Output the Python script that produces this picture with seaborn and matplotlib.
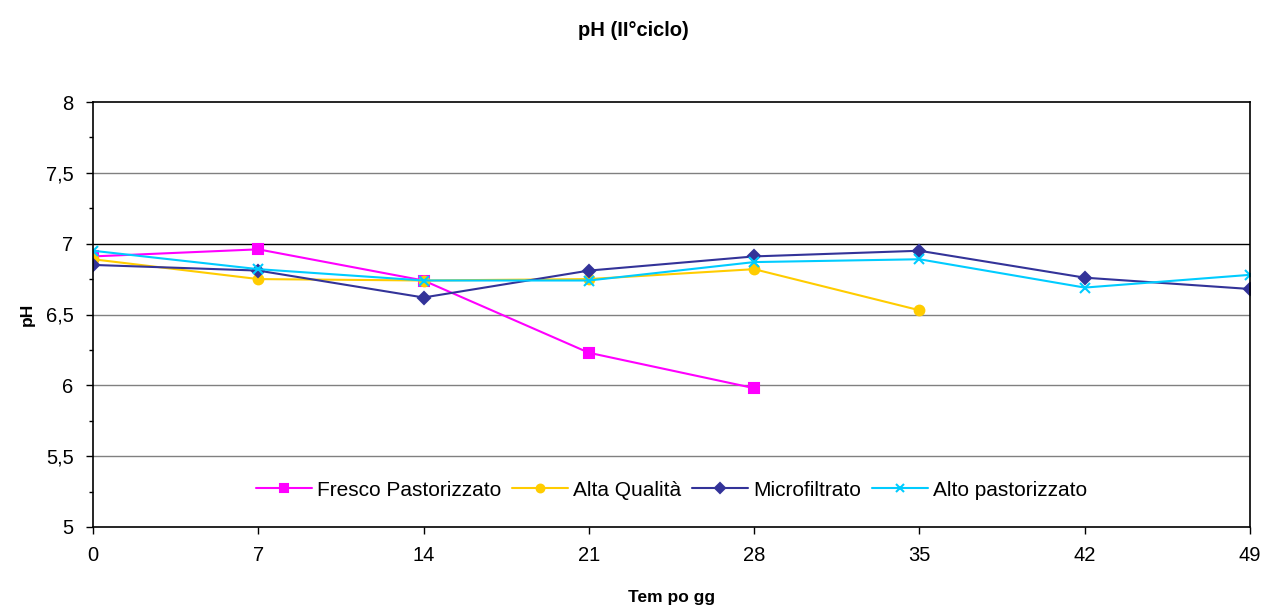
import matplotlib
matplotlib.use("Agg")
import matplotlib.pyplot as plt
from matplotlib.ticker import MultipleLocator, FuncFormatter
import seaborn as sns
import pandas as pd

days = [0, 7, 14, 21, 28, 35, 42, 49]
fresco = [6.91, 6.96, 6.74, 6.23, 5.98]
alta_qualita = [6.89, 6.75, 6.74, 6.75, 6.82, 6.53]
microfiltrato = [6.85, 6.81, 6.62, 6.81, 6.91, 6.95, 6.76, 6.68]
alto_past = [6.95, 6.82, 6.74, 6.74, 6.87, 6.89, 6.69, 6.78]

series = {
    "Fresco Pastorizzato": fresco,
    "Alta Qualità": alta_qualita,
    "Microfiltrato": microfiltrato,
    "Alto pastorizzato": alto_past,
}
colors = {
    "Fresco Pastorizzato": "#FF00FF",
    "Alta Qualità": "#FFCC00",
    "Microfiltrato": "#333399",
    "Alto pastorizzato": "#00CCFF",
}
markers = {
    "Fresco Pastorizzato": "s",
    "Alta Qualità": "o",
    "Microfiltrato": "D",
    "Alto pastorizzato": "x",
}

sns.set_theme(style="white")
plt.rcParams["font.family"] = ["Liberation Sans", "DejaVu Sans"]
plt.rcParams["text.color"] = "black"
plt.rcParams["axes.labelcolor"] = "black"
plt.rcParams["xtick.color"] = "black"
plt.rcParams["ytick.color"] = "black"

fig = plt.figure(figsize=(12.66, 6.14), dpi=100)
ax = fig.add_axes([93 / 1266, 1 - 527 / 614, (1250 - 93) / 1266, (527 - 102) / 614])

for name, vals in series.items():
    d = pd.DataFrame({"Tempo": days[:len(vals)], "pH": vals})
    mk = markers[name]
    kw = dict(markersize=7, markeredgewidth=1.5)
    if mk == "x":
        kw.update(markeredgecolor=colors[name])
    elif mk == "o":
        kw.update(markerfacecolor=colors[name], markeredgecolor=colors[name], markersize=7)
    else:
        kw.update(markeredgecolor=colors[name], markersize=6.5)
    sns.lineplot(data=d, x="Tempo", y="pH", color=colors[name], marker=mk,
                 linewidth=1.5, label=name, ax=ax, **kw)

ax.set_xlim(0, 49)
ax.set_ylim(5, 8)
ax.set_xticks(days)
ax.yaxis.set_major_locator(MultipleLocator(0.5))
ax.yaxis.set_minor_locator(MultipleLocator(0.25))
ax.yaxis.set_major_formatter(FuncFormatter(lambda v, p: f"{v:g}".replace(".", ",")))

for yv in [5.5, 6, 6.5, 7.5]:
    ax.axhline(yv, color="#808080", linewidth=1, zorder=0)
ax.axhline(7, color="black", linewidth=1, zorder=0)

for s in ax.spines.values():
    s.set_color("black")
    s.set_linewidth(1.2)

ax.tick_params(axis="both", which="major", direction="out", length=5, width=1,
               color="black", labelsize=14.5, left=True, bottom=True)
ax.tick_params(axis="y", which="major", pad=9)
ax.tick_params(axis="x", which="major", pad=9)
ax.tick_params(axis="y", which="minor", direction="out", length=3, width=1,
               color="black", left=True)

ax.set_xlabel("Tem po gg", fontsize=12.5, fontweight="bold", labelpad=18)
ax.set_ylabel("pH", fontsize=12.5, fontweight="bold", labelpad=8)
fig.suptitle("pH (II°ciclo)", fontsize=14.5, fontweight="bold", y=0.965)

handles, labels = ax.get_legend_handles_labels()
ax.legend(handles, labels, loc="lower center", bbox_to_anchor=(0.5, 0.02),
          ncol=4, frameon=False, fontsize=15, handlelength=2.7,
          handletextpad=0.25, columnspacing=0.5, markerscale=0.8)

fig.savefig("out.png", dpi=100, facecolor="white")
